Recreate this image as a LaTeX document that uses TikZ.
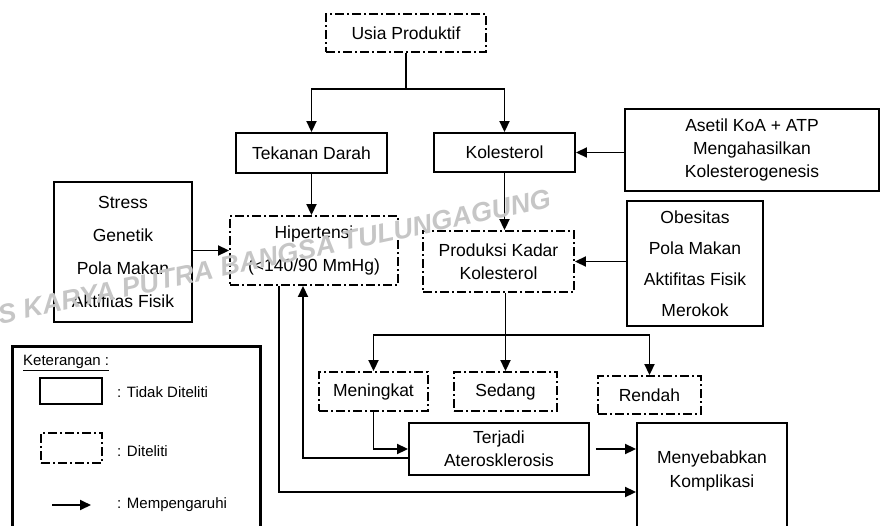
\documentclass[tikz,border=0pt]{standalone}
\usepackage{fontspec}
\setmainfont{Liberation Sans}
\usetikzlibrary{arrows.meta,calc}

\tikzset{
  tbox/.style={draw,line width=1.9pt,rectangle,align=center,inner sep=0pt,font=\fontsize{17.5}{22}\selectfont},
  dbox/.style={tbox,dash pattern=on 9pt off 3pt on 2pt off 3pt},
  link/.style={line width=1.9pt,-{Triangle[length=11pt,width=10pt]}},
  wire/.style={line width=1.9pt},
  ket/.style={anchor=west,inner sep=0pt,font=\fontsize{15}{18}\selectfont}
}

\begin{document}
\begin{tikzpicture}[x=1pt,y=-1pt]
\useasboundingbox (0,0) rectangle (881,525);
\clip (0,0) rectangle (881,525);

\node[dbox,minimum width=160,minimum height=38] (usia) at (406,33) {Usia Produktif};
\node[tbox,minimum width=151,minimum height=40] (tekanan) at (311.5,153) {Tekanan Darah};
\node[tbox,minimum width=141,minimum height=39] (kolesterol) at (504.5,152.5) {Kolesterol};
\node[tbox,minimum width=254,minimum height=82,font=\fontsize{17.5}{23}\selectfont] (asetil) at (752,150) {Asetil KoA + ATP\\Mengahasilkan\\Kolesterogenesis};
\node[tbox,minimum width=138,minimum height=140,font=\fontsize{17.5}{33}\selectfont] (faktor) at (123,252) {Stress\\Genetik\\Pola Makan\\Aktifitas Fisik};
\node[dbox,minimum width=168,minimum height=69,font=\fontsize{17.5}{33}\selectfont] (hipertensi) at (314,250.5) {Hipertensi\\(<140/90 MmHg)};
\node[dbox,minimum width=151,minimum height=61,font=\fontsize{17.5}{22.5}\selectfont] (produksi) at (498.5,261.5) {Produksi Kadar\\Kolesterol};
\node[tbox,minimum width=136,minimum height=125,font=\fontsize{17.5}{31}\selectfont] (gayahidup) at (695,263.5) {Obesitas\\Pola Makan\\Aktifitas Fisik\\Merokok};
\node[dbox,minimum width=109,minimum height=39] (meningkat) at (373.5,391.5) {Meningkat};
\node[dbox,minimum width=103,minimum height=39] (sedang) at (505.5,391.5) {Sedang};
\node[dbox,minimum width=103,minimum height=38] (rendah) at (649.5,395) {Rendah};
\node[tbox,minimum width=180,minimum height=52,font=\fontsize{17.5}{22.7}\selectfont] (terjadi) at (499,449) {Terjadi\\Aterosklerosis};
\node[tbox,minimum width=150,anchor=north,inner ysep=28pt,text depth=80pt,font=\fontsize{17.5}{24}\selectfont] (komplikasi) at (712,422) {Menyebabkan\\Komplikasi};

\coordinate (split) at (406,89);
\draw[wire] (usia.south) -- (split);
\draw[link] (split) -| (tekanan.north);
\draw[link] (split) -| (kolesterol.north);
\draw[link] (tekanan.south) -- (tekanan.south |- hipertensi.north);
\draw[link] (kolesterol.south) -- (kolesterol.south |- produksi.north);
\draw[link] (asetil.west |- kolesterol.east) -- (kolesterol.east);
\draw[link] (faktor.east |- hipertensi.west) -- (hipertensi.west);
\draw[link] (gayahidup.west |- produksi.east) -- (produksi.east);

\coordinate (cabang) at (sedang.north |- 0,335);
\draw[link] (produksi.south -| sedang.north) -- (sedang.north);
\draw[link] (cabang) -| (meningkat.north);
\draw[link] (cabang) -| (rendah.north);
\draw[link] (meningkat.south) |- (terjadi.west);
\draw[link] ([yshift=-9pt]terjadi.west) -| ([xshift=-11pt]hipertensi.south);
\draw[link] ([xshift=-35pt]hipertensi.south) |- (komplikasi.west |- 0,492);
\draw[link,shorten <=6pt] (terjadi.east) -- (terjadi.east -| komplikasi.west);

\node[draw,line width=2.6pt,minimum width=248,minimum height=200,anchor=north west] (legenda) at (11,345) {};
\node[ket] (judul) at (23,363) {\underline{Keterangan :}};
\node[tbox,line width=1.6pt,minimum width=62,minimum height=26] (contohT) at (71,391) {};
\node[dbox,line width=1.6pt,minimum width=61,minimum height=30] (contohD) at (71.5,448) {};
\coordinate (panahA) at (52,505);
\coordinate (panahB) at (91,505);
\draw[link] (panahA) -- (panahB);
\node[ket] (ketT) at (117,391.7) {: Tidak Diteliti};
\node[ket] (ketD) at (117,450.7) {: Diteliti};
\node[ket] (ketP) at (117,505) {: Mempengaruhi};

\node[rotate=12,anchor=west,inner sep=0pt,text=gray!45,font=\fontsize{27}{27}\selectfont\bfseries\itshape] (watermark) at (-2,315) {S KARYA PUTRA BANGSA TULUNGAGUNG};
\end{tikzpicture}
\end{document}
